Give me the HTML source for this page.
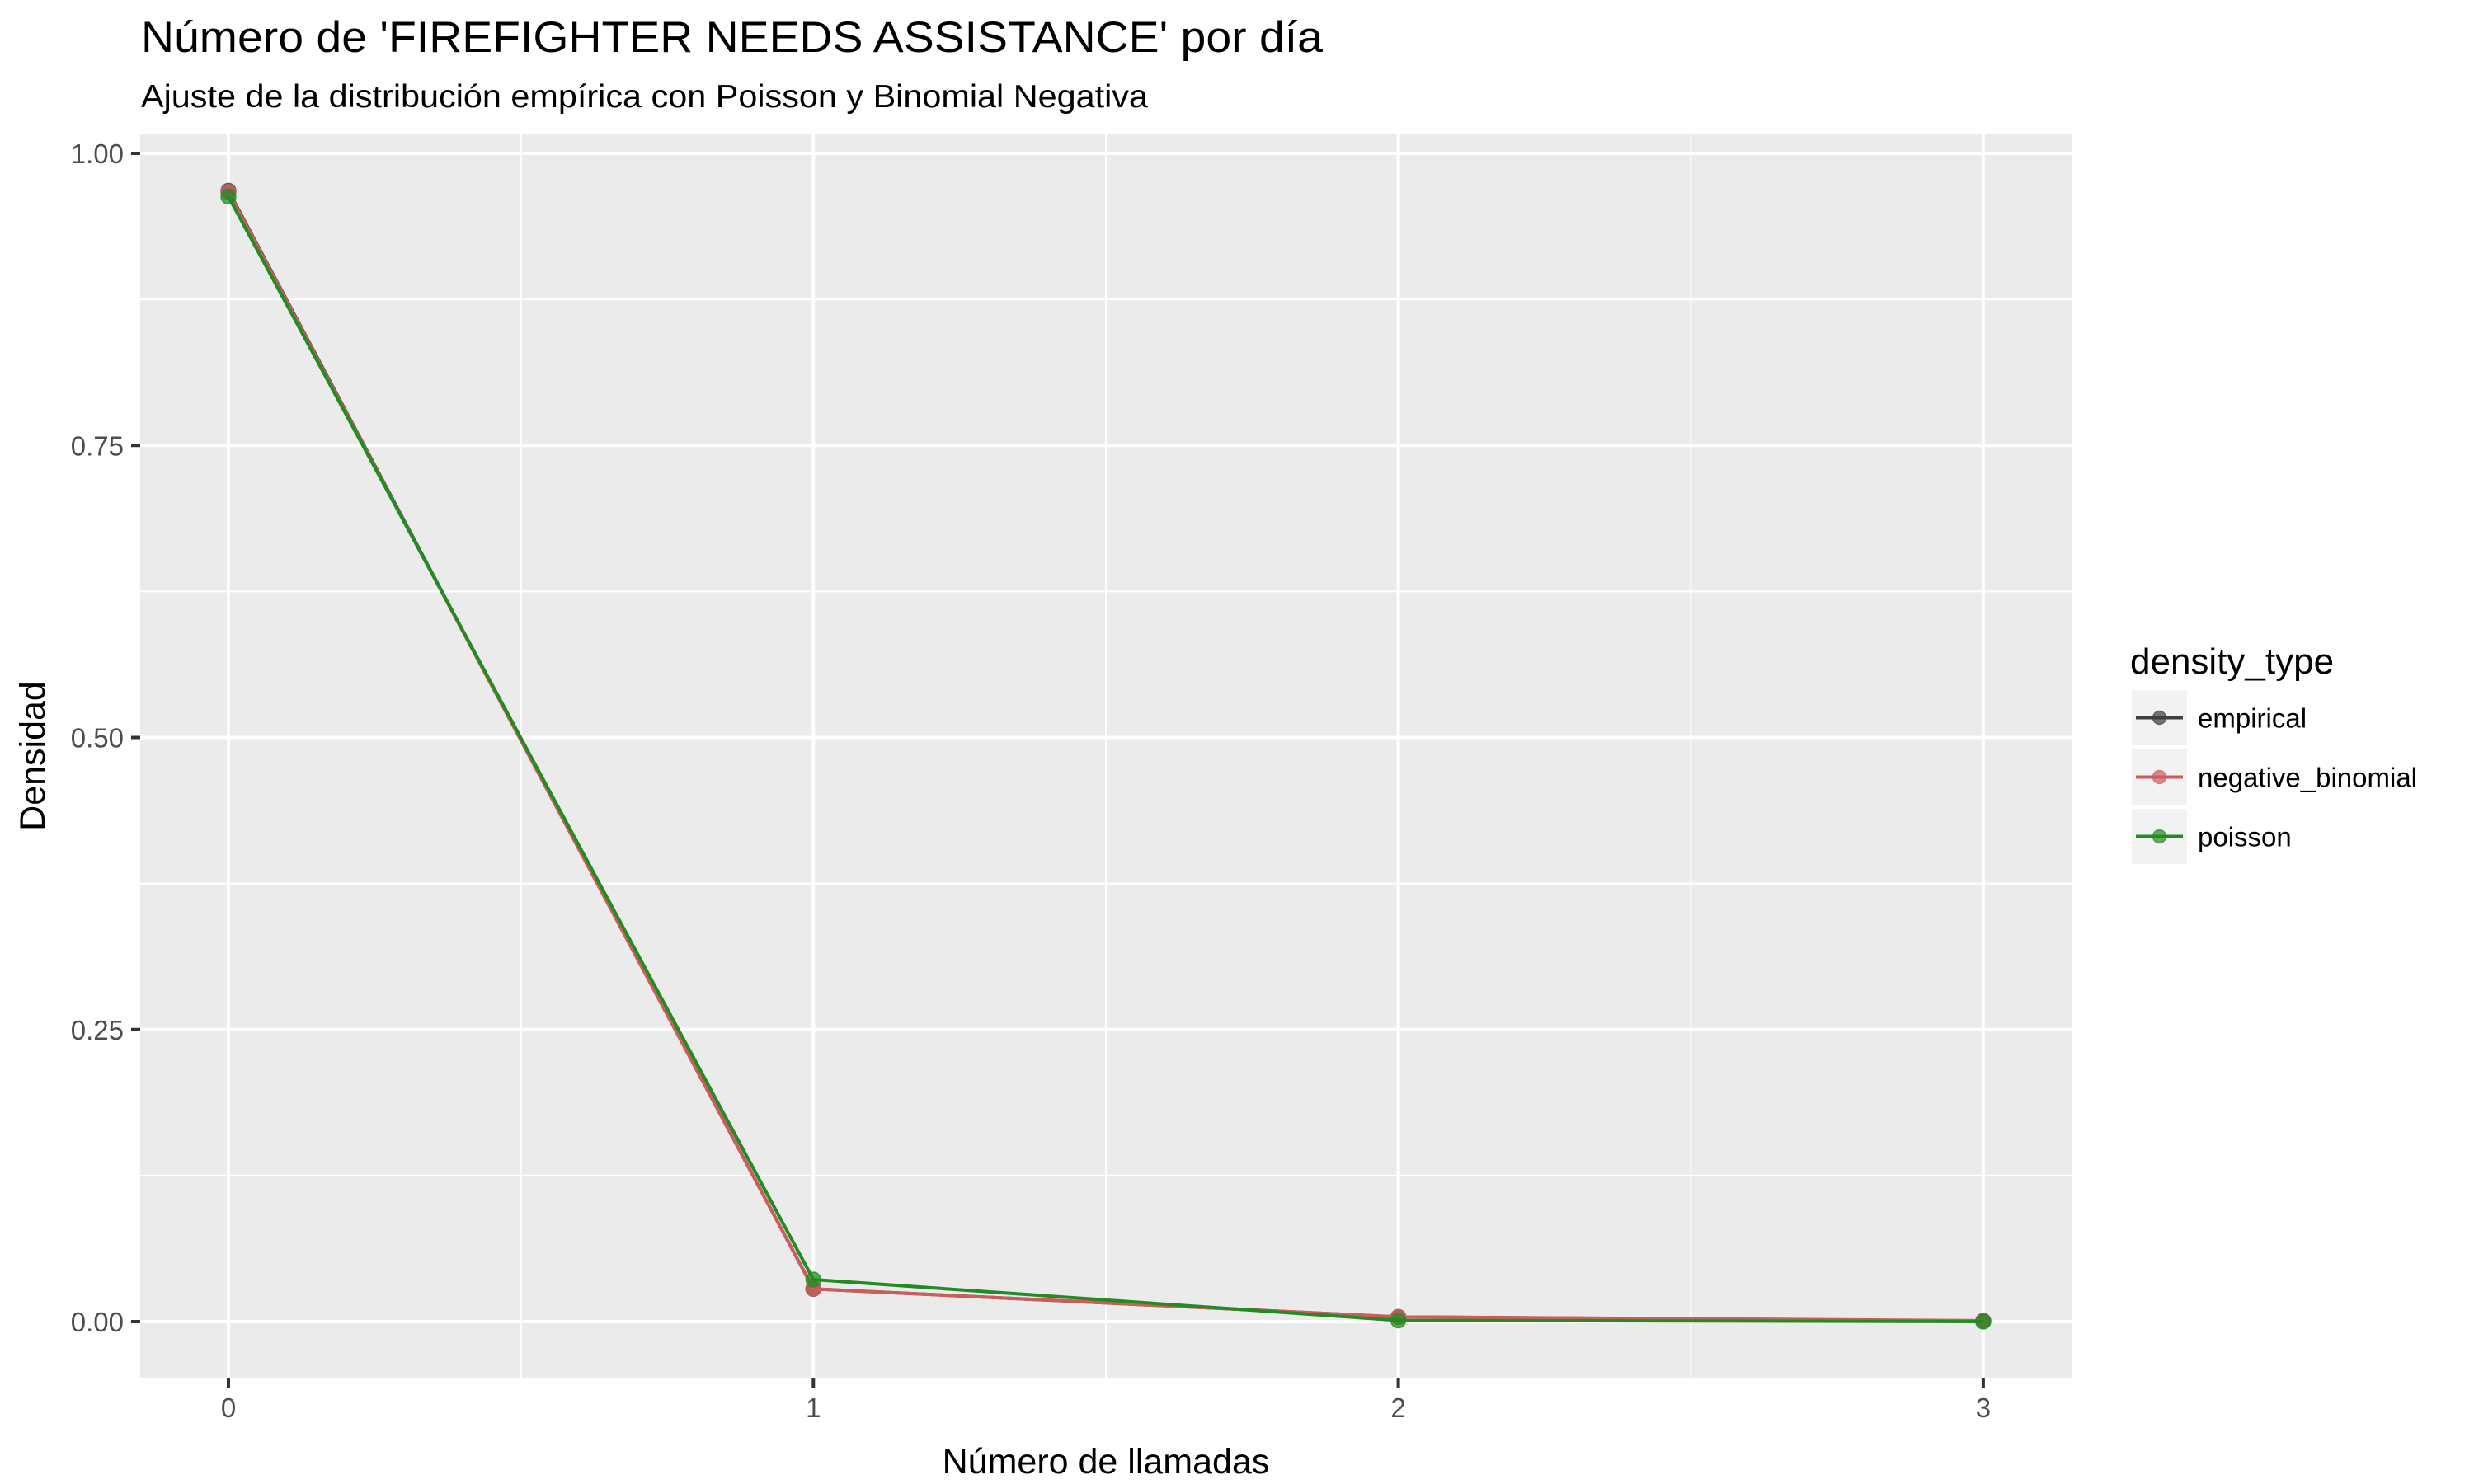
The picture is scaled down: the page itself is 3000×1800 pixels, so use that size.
<!DOCTYPE html>
<html><head><meta charset="utf-8"><style>
html,body{margin:0;padding:0;background:#fff}
svg{display:block;font-family:"Liberation Sans",sans-serif}
</style></head><body>
<svg id="chart" width="3000" height="1800" viewBox="0 0 3000 1800">
<text x="171" y="63" font-size="53" fill="#000" textLength="1433" lengthAdjust="spacingAndGlyphs">Número de 'FIREFIGHTER NEEDS ASSISTANCE' por día</text>
<text x="171" y="130" font-size="39" fill="#000" textLength="1221" lengthAdjust="spacingAndGlyphs">Ajuste de la distribución empírica con Poisson y Binomial Negativa</text>
<rect x="170" y="163" width="2342" height="1509" fill="#EBEBEB"/>
<g id="grid"></g>
<g id="axes"></g>
<g id="series"></g>
<text x="1341" y="1787" font-size="43" text-anchor="middle" fill="#000">Número de llamadas</text>
<text transform="translate(54,917) rotate(-90)" font-size="43" text-anchor="middle" fill="#000">Densidad</text>
<g id="legend">
<text x="2583" y="817" font-size="44" fill="#000">density_type</text>
</g>
</svg>
<script>
const categories = [0, 1, 2, 3];
const empirical = [0.968, 0.028, 0.004, 0.0005];
const negativeBinomial = [0.967, 0.028, 0.004, 0.0008];
const poisson = [0.963, 0.036, 0.001, 0.0];
const yTicks = [0, 0.25, 0.5, 0.75, 1.0];
const yTickLabels = ["0.00", "0.25", "0.50", "0.75", "1.00"];
const xTickLabels = ["0", "1", "2", "3"];
const seriesNames = ["empirical", "negative_binomial", "poisson"];

const NS = "http://www.w3.org/2000/svg";
const x = v => 277 + v * 709.3;
const y = v => 1603 - v * 1417;
function mk(tag, attrs, parent) {
  const e = document.createElementNS(NS, tag);
  for (const k in attrs) e.setAttribute(k, attrs[k]);
  parent.appendChild(e);
  return e;
}
const grid = document.getElementById('grid');
const axes = document.getElementById('axes');
const series = document.getElementById('series');
const legend = document.getElementById('legend');

for (let i = 0; i < yTicks.length - 1; i++) {
  const v = (yTicks[i] + yTicks[i + 1]) / 2;
  const l = mk('line', {x1: 170, x2: 2512, y1: y(v), y2: y(v), stroke: '#fff', 'stroke-width': 2}, grid);
  
  
}
for (let i = 0; i < categories.length - 1; i++) {
  const v = (categories[i] + categories[i + 1]) / 2;
  const l = mk('line', {x1: x(v), x2: x(v), y1: 163, y2: 1672, stroke: '#fff', 'stroke-width': 2}, grid);
  
  
}
yTicks.forEach((v, i) => {
  const l = mk('line', {x1: 170, x2: 2512, y1: y(v), y2: y(v), stroke: '#fff', 'stroke-width': 4}, grid);
  
  
  const t = mk('line', {x1: 159, x2: 170, y1: y(v), y2: y(v), stroke: '#333', 'stroke-width': 4}, axes);
  
  
  const tx = mk('text', {x: 150, y: y(v) + 12, 'font-size': 33, 'text-anchor': 'end', fill: '#4D4D4D'}, axes);
  tx.textContent = yTickLabels[i];
  
  
});
categories.forEach((v, i) => {
  const l = mk('line', {x1: x(v), x2: x(v), y1: 163, y2: 1672, stroke: '#fff', 'stroke-width': 4}, grid);
  
  
  const t = mk('line', {x1: x(v), x2: x(v), y1: 1672, y2: 1683, stroke: '#333', 'stroke-width': 4}, axes);
  
  
  const tx = mk('text', {x: x(v), y: 1719, 'font-size': 33, 'text-anchor': 'middle', fill: '#4D4D4D'}, axes);
  tx.textContent = xTickLabels[i];
  
  
});

const colors = ['#3F3F3F', '#CD5C5C', '#228B22'];
const data = [empirical, negativeBinomial, poisson];
data.forEach((vals, s) => {
  const g = mk('g', {}, series);
  
  
  const pts = vals.map((v, i) => x(categories[i]) + ',' + y(v)).join(' ');
  const pl = mk('polyline', {points: pts, fill: 'none', stroke: colors[s], 'stroke-width': 4}, g);
  
  
  vals.forEach((v, i) => {
    const c = mk('circle', {cx: x(categories[i]), cy: y(v), r: 9, fill: colors[s], 'fill-opacity': 0.75, stroke: colors[s], 'stroke-opacity': 0.75, 'stroke-width': 1.5}, g);
    
    
  });
});

const keyY = [837, 909, 981];
seriesNames.forEach((n, s) => {
  const g = mk('g', {}, legend);
  
  
  mk('rect', {x: 2585, y: keyY[s], width: 67, height: 67, fill: '#F2F2F2'}, g);
  const cy = keyY[s] + 33.5;
  mk('line', {x1: 2590, x2: 2647, y1: cy, y2: cy, stroke: colors[s], 'stroke-width': 4}, g);
  mk('circle', {cx: 2618.5, cy: cy, r: 8, fill: colors[s], 'fill-opacity': 0.7, stroke: colors[s], 'stroke-opacity': 0.7, 'stroke-width': 1.5}, g);
  const t = mk('text', {x: 2665, y: cy + 12, 'font-size': 33, fill: '#000'}, g);
  t.textContent = n;
  
  
});
</script>
</body></html>
